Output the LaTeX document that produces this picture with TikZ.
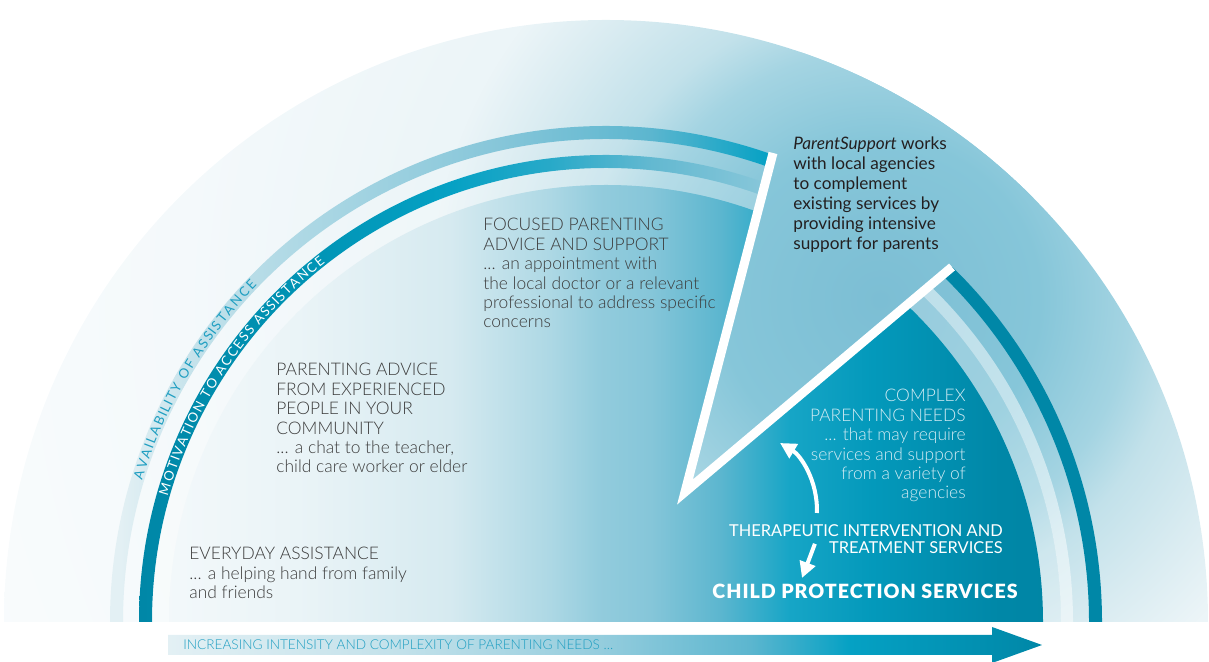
\documentclass[tikz,border=0pt]{standalone}
\usepackage{fontspec}
\setmainfont{Lato}
\IfFontExistsTF{Lato Light}{\newfontfamily\lightfont{Lato Light}}{\newfontfamily\lightfont{Lato}}
\IfFontExistsTF{Lato Black}{\newfontfamily\heavyfont{Lato Black}}{\newcommand{\heavyfont}{\bfseries}}
\usepackage{tikz}
\usetikzlibrary{arrows.meta,calc,decorations.text}

\definecolor{pale}{HTML}{F4F9FB}
\definecolor{mist}{HTML}{E3F0F4}
\definecolor{ice}{HTML}{C2E1EA}
\definecolor{sky}{HTML}{A4D4E2}
\definecolor{aqua}{HTML}{86C6D9}
\definecolor{glow}{HTML}{7CBED4}
\definecolor{sea}{HTML}{5CB6CF}
\definecolor{brightteal}{HTML}{05A1C4}
\definecolor{midteal}{HTML}{0093B4}
\definecolor{deepteal}{HTML}{0087A7}
\definecolor{inkgray}{HTML}{3C3C3C}
\definecolor{ink}{HTML}{231F20}
\definecolor{foam}{HTML}{D3ECF4}
\definecolor{bartext}{HTML}{1E9EC1}

\pgfdeclareradialshading{outerglow}{\pgfpoint{0bp}{0bp}}{color(0bp)=(glow); color(4bp)=(aqua); color(6.25bp)=(sky); color(7.5bp)=(ice); color(9.5bp)=(mist!70!ice); color(11.25bp)=(mist!50!pale); color(17.5bp)=(pale); color(25bp)=(pale!50!white); color(50bp)=(pale!50!white)}
\pgfdeclarehorizontalshading{lightband}{100bp}{color(0bp)=(mist); color(29.96bp)=(mist); color(33.27bp)=(ice); color(39.47bp)=(sky); color(45.68bp)=(aqua); color(51.88bp)=(sea); color(56.84bp)=(brightteal); color(100bp)=(brightteal)}
\pgfdeclarehorizontalshading{darkband}{100bp}{color(0bp)=(deepteal); color(30.79bp)=(deepteal); color(37.41bp)=(midteal); color(43.61bp)=(brightteal); color(47.75bp)=(brightteal!60!sea); color(51.88bp)=(sea!85!aqua); color(56.43bp)=(aqua); color(100bp)=(aqua)}
\pgfdeclarehorizontalshading{innerfade}{100bp}{color(0bp)=(pale); color(31.2bp)=(pale); color(37.41bp)=(pale!40!mist); color(43.61bp)=(mist!60!ice); color(47.75bp)=(sky!70!ice); color(49.81bp)=(sky!40!aqua); color(51.88bp)=(aqua); color(54.78bp)=(sea); color(57.67bp)=(brightteal!80!sea); color(60.98bp)=(brightteal!70!deepteal); color(66.36bp)=(deepteal); color(75bp)=(deepteal!95!black); color(100bp)=(deepteal!95!black)}
\pgfdeclarehorizontalshading{barfade}{100bp}{color(0bp)=(mist); color(25bp)=(mist); color(38.3bp)=(ice); color(49.7bp)=(sky!50!aqua); color(58.3bp)=(sea); color(64bp)=(brightteal); color(75bp)=(deepteal); color(100bp)=(deepteal)}

\tikzset{>={Triangle[length=8pt,width=8pt]}}
\tikzstyle{wedgeline}=[white, line width=4.5pt, line join=miter]
\tikzstyle{flow}=[->, white, line width=2pt]
\tikzstyle{grey}=[inner sep=0, align=left, text=inkgray, font=\lightfont\fontsize{8.7}{9.7}\selectfont]
\tikzstyle{blurb}=[inner sep=0, align=left, text=ink, font=\fontsize{8.6}{10}\selectfont]
\tikzstyle{needs}=[inner sep=0, align=right, text=foam, font=\lightfont\fontsize{8.7}{9.7}\selectfont]
\tikzstyle{service}=[inner sep=0, align=right, text=white, font=\fontsize{8.2}{8.5}\selectfont]
\newcommand{\arcfont}{\fontsize{6.6}{8}\selectfont}
\newcommand{\halfdisk}[1]{(0:#1) arc (0:180:#1) -- cycle}
\newcommand{\ring}[2]{(180:#1) arc (180:0:#1) -- (0:#2) arc (0:180:#2) -- cycle}
\newcommand{\across}{(-606,-100) rectangle (603,700)}
\newcommand{\glowbox}{(-726,-678) rectangle (1274,1322)}

\begin{document}
\begin{tikzpicture}[x=0.5pt, y=0.5pt]
\useasboundingbox (0,0) rectangle (1209,662);

\begin{scope}[shift={(606,40)}]
  \coordinate (apex) at (79,130);
  \coordinate (cut left) at (167,469);
  \coordinate (cut right) at (346,355);

  \begin{scope}
    \clip \halfdisk{602};
    \shade[shading=outerglow] \glowbox;
  \end{scope}

  % left of the wedge
  \begin{scope}
    \clip (35,-40) -- (343,1147) -- (-700,1147) -- (-700,-100) -- cycle;
    \begin{scope}
      \clip \ring{483}{496};
      \shade[shading=lightband] \across;
    \end{scope}
    \begin{scope}
      \clip \ring{454}{467};
      \shade[shading=darkband] \across;
    \end{scope}
    \fill[white, fill opacity=.2] \ring{437}{454};
  \end{scope}

  % right of the wedge
  \begin{scope}
    \clip (-81,-5) -- (880,805) -- (1000,805) -- (1000,-100) -- (-81,-100) -- cycle;
    \fill[deepteal] \ring{483}{496};
    \fill[white, fill opacity=.5] \ring{455}{467};
    \fill[white, fill opacity=.2] \ring{437}{455};
  \end{scope}

  \begin{scope}
    \clip \halfdisk{437};
    \shade[shading=innerfade] \across;
  \end{scope}

  \begin{scope}
    \clip (apex) -- (343,1147) -- (880,805) -- cycle;
    \clip \halfdisk{602};
    \shade[shading=outerglow] \glowbox;
  \end{scope}

  \draw[wedgeline] (cut left) -- (apex) -- (cut right);

  \path[decorate, decoration={text effects along path, text={AVAILABILITY OF ASSISTANCE},
    text effects/.cd, text along path, fit text to path,
    characters={text=bartext, font=\arcfont}}] (163:485) arc (163:136:485);
  \path[decorate, decoration={text effects along path, text={MOTIVATION TO ACCESS ASSISTANCE},
    text effects/.cd, text along path, fit text to path,
    characters={text=white, font=\arcfont}}] (164:456) arc (164:128:456);
\end{scope}

\node[grey, anchor=north west] (everyday) at (189,115) {EVERYDAY ASSISTANCE\\... a helping hand from family\\and friends};
\node[grey, anchor=north west] (community) at (276,299) {PARENTING ADVICE\\FROM EXPERIENCED\\PEOPLE IN YOUR\\COMMUNITY\\... a chat to the teacher,\\child care worker or elder};
\node[grey, anchor=north west] (focused) at (483,444) {FOCUSED PARENTING\\ADVICE AND SUPPORT\\... an appointment with\\the local doctor or a relevant\\professional to address specific\\concerns};
\node[blurb, anchor=north west] (agencies) at (793,526) {\textit{ParentSupport} works\\with local agencies\\to complement\\existing services by\\providing intensive\\support for parents};
\node[needs, anchor=north east] (complex) at (966,273) {COMPLEX\\PARENTING NEEDS\\... that may require\\services and support\\from a variety of\\agencies};
\node[service, anchor=north east] (ther) at (1003,138) {THERAPEUTIC INTERVENTION AND\\TREATMENT SERVICES};
\node[inner sep=0, text=white, font=\heavyfont\fontsize{9.8}{12}\selectfont\addfontfeatures{LetterSpace=5}] (protect) at (865,71) {CHILD PROTECTION SERVICES};

\coordinate (needs tail) at ($(ther.north)+(-49,11)$);
\coordinate (needs tip) at (780,219);
\coordinate (protect tail) at ($(ther.south)+(-51,10)$);
\coordinate (protect tip) at (802,84);
\draw[flow] (needs tail) .. controls (818,182) and (800,207) .. (needs tip);
\draw[flow] (protect tail) -- (protect tip);

\shade[shading=barfade] (168,7) -- (992,7) -- (992,-1) -- (1042,17) -- (992,35) -- (992,27) -- (168,27) -- cycle;
\node[inner sep=0, anchor=west, text=bartext, font=\lightfont\fontsize{6.8}{8}\selectfont] (scale) at (183,17) {INCREASING INTENSITY AND COMPLEXITY OF PARENTING NEEDS ...};

\end{tikzpicture}
\end{document}
